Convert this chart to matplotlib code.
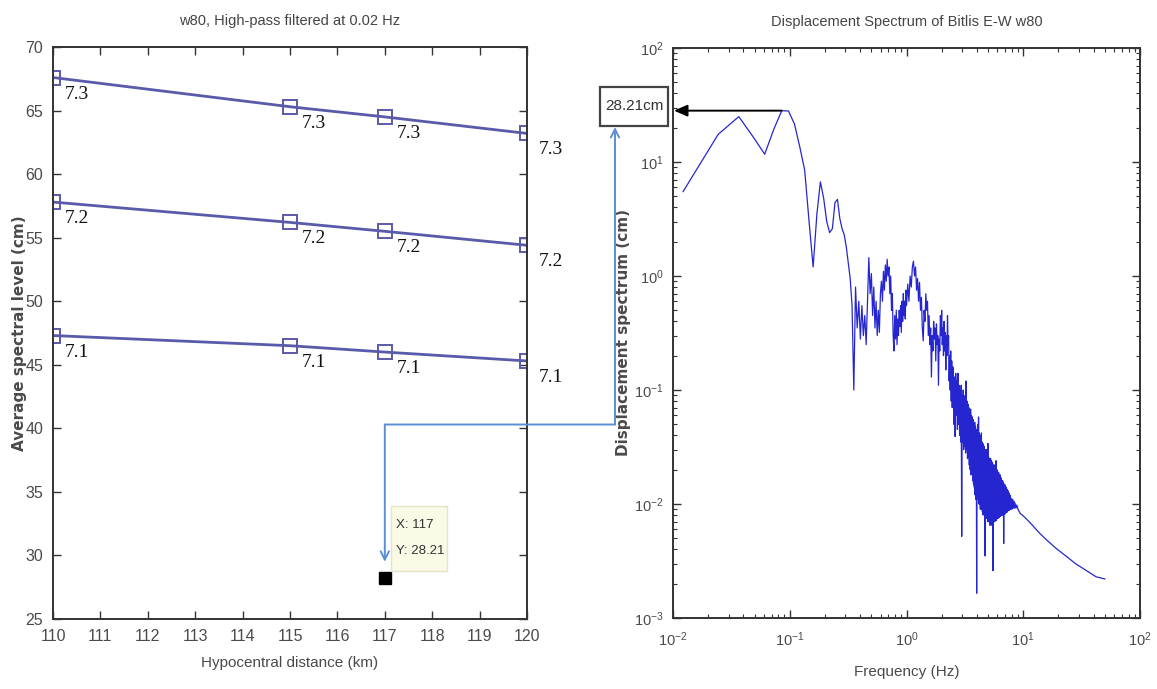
import matplotlib
matplotlib.use("Agg")
import matplotlib.pyplot as plt
import matplotlib.ticker as mticker
import matplotlib.transforms as mtransforms
from matplotlib.patches import ConnectionPatch, Rectangle

# -----------------------------
# Data
# -----------------------------
distance_km = [110, 115, 117, 120]
level_m73 = [67.6, 65.3, 64.5, 63.2]
level_m72 = [57.8, 56.2, 55.5, 54.4]
level_m71 = [47.3, 46.5, 46.0, 45.3]
series_labels = ["7.3", "7.2", "7.1"]

pick_distance = 117
pick_level = 28.21
peak_freq = 0.0854

# displacement spectrum, Bitlis E-W component
# low band (smooth part)
freq_low = [
    0.0122, 0.0244, 0.0366, 0.0488, 0.0610, 0.0732, 0.0854, 0.0976, 0.1098, 0.1220,
    0.1342, 0.1464, 0.1586, 0.1708, 0.1830, 0.1952, 0.2074, 0.2196, 0.2318, 0.2440,
    0.2562, 0.2684, 0.2806, 0.2928, 0.3050, 0.3172,
]
disp_low = [
    5.5, 17.5, 25.0, 16.5, 11.7, 19.5, 28.21, 28.0, 21.5, 13.5,
    8.5, 3.0, 1.2, 3.5, 6.7, 4.8, 3.0, 2.4, 2.6, 4.4,
    4.7, 3.2, 2.6, 2.3, 1.8, 1.3,
]
# mid band (0.33 - 2.5 Hz)
freq_mid = [
    0.3294, 0.3416, 0.3538, 0.3660, 0.3782, 0.3904, 0.4026, 0.4148, 0.4270, 0.4392,
    0.4514, 0.4636, 0.4758, 0.4880, 0.5002, 0.5124, 0.5246, 0.5368, 0.5490, 0.5612,
    0.5734, 0.5856, 0.5978, 0.6100, 0.6222, 0.6344, 0.6466, 0.6588, 0.6710, 0.6832,
    0.6954, 0.7076, 0.7198, 0.7320, 0.7442, 0.7564, 0.7686, 0.7808, 0.7930, 0.8052,
    0.8174, 0.8296, 0.8418, 0.8540, 0.8662, 0.8784, 0.8906, 0.9028, 0.9150, 0.9272,
    0.9394, 0.9516, 0.9638, 0.9760, 0.9882, 1.0004, 1.0248, 1.0492, 1.0736, 1.0980,
    1.1224, 1.1468, 1.1712, 1.1956, 1.2200, 1.2444, 1.2688, 1.2932, 1.3176, 1.3420,
    1.3664, 1.3908, 1.4152, 1.4396, 1.4640, 1.4884, 1.5128, 1.5372, 1.5616, 1.5860,
    1.6104, 1.6348, 1.6592, 1.6836, 1.7080, 1.7324, 1.7568, 1.7812, 1.8056, 1.8300,
    1.8544, 1.8788, 1.9032, 1.9276, 1.9520, 1.9764, 2.0008, 2.0252, 2.0496, 2.0740,
    2.0984, 2.1228, 2.1472, 2.1716, 2.1960, 2.2204, 2.2448, 2.2692, 2.2936, 2.3180,
    2.3424, 2.3668, 2.3912, 2.4156, 2.4400, 2.4644, 2.4888,
]
disp_mid = [
    0.95, 0.55, 0.10, 0.8, 0.35, 0.6, 0.28, 0.55, 0.3, 0.45,
    0.25, 0.6, 1.45, 0.7, 1.05, 0.45, 0.8, 0.35, 0.6, 0.3,
    0.5, 0.32, 0.7, 0.9, 0.6, 1.1, 0.75, 1.25, 0.9, 1.4,
    1.0, 1.2, 0.7, 1.0, 0.5, 0.7, 0.3, 0.22, 0.45, 0.28,
    0.5, 0.25, 0.42, 0.3, 0.5, 0.36, 0.55, 0.32, 0.6, 0.4,
    0.7, 0.45, 0.6, 0.42, 0.75, 0.55, 0.85, 0.6, 1.0, 0.8,
    1.2, 1.35, 1.0, 1.2, 0.75, 0.95, 0.6, 0.88, 0.5, 0.65,
    0.35, 0.27, 0.5, 0.4, 0.7, 0.5, 0.6, 0.3, 0.45, 0.25,
    0.35, 0.13, 0.3, 0.22, 0.4, 0.28, 0.35, 0.18, 0.38, 0.25,
    0.3, 0.11, 0.28, 0.22, 0.45, 0.3, 0.5, 0.25, 0.35, 0.2,
    0.4, 0.22, 0.32, 0.15, 0.3, 0.2, 0.45, 0.25, 0.3, 0.12,
    0.2, 0.1, 0.22, 0.08, 0.18, 0.07, 0.16,
]
# dense band (2.5 - 9 Hz)
freq_dense = [
    2.52, 2.55, 2.58, 2.61, 2.64, 2.67, 2.70, 2.73, 2.76, 2.79,
    2.82, 2.85, 2.88, 2.91, 2.94, 2.97, 3.00, 3.03, 3.06, 3.09,
    3.12, 3.15, 3.18, 3.21, 3.24, 3.27, 3.30, 3.33, 3.36, 3.39,
    3.42, 3.45, 3.48, 3.51, 3.54, 3.57, 3.60, 3.63, 3.66, 3.69,
    3.72, 3.75, 3.78, 3.81, 3.84, 3.87, 3.90, 3.93, 3.96, 3.99,
    4.02, 4.05, 4.08, 4.11, 4.14, 4.17, 4.20, 4.23, 4.26, 4.29,
    4.32, 4.35, 4.38, 4.41, 4.44, 4.47, 4.50, 4.53, 4.56, 4.59,
    4.62, 4.65, 4.68, 4.71, 4.74, 4.77, 4.80, 4.83, 4.86, 4.89,
    4.92, 4.95, 4.98, 5.01, 5.05, 5.10, 5.15, 5.20, 5.25, 5.30,
    5.35, 5.40, 5.45, 5.50, 5.55, 5.60, 5.65, 5.70, 5.75, 5.80,
    5.85, 5.90, 5.95, 6.00, 6.05, 6.10, 6.15, 6.20, 6.25, 6.30,
    6.35, 6.40, 6.45, 6.50, 6.55, 6.60, 6.65, 6.70, 6.75, 6.80,
    6.85, 6.90, 6.95, 7.00, 7.05, 7.10, 7.15, 7.20, 7.25, 7.30,
    7.35, 7.40, 7.45, 7.50, 7.55, 7.60, 7.65, 7.70, 7.75, 7.80,
    7.90, 8.00, 8.10, 8.20, 8.30, 8.40, 8.50, 8.65, 8.80, 9.00,
]
disp_dense = [
    0.15, 0.05, 0.13, 0.039, 0.14, 0.06, 0.12, 0.045, 0.14, 0.05,
    0.11, 0.04, 0.10, 0.035, 0.11, 0.0052, 0.09, 0.035, 0.10, 0.03,
    0.085, 0.032, 0.09, 0.028, 0.12, 0.03, 0.08, 0.025, 0.075, 0.026,
    0.07, 0.022, 0.065, 0.02, 0.068, 0.018, 0.06, 0.02, 0.058, 0.016,
    0.055, 0.015, 0.05, 0.014, 0.052, 0.012, 0.048, 0.011, 0.045, 0.00165,
    0.044, 0.012, 0.05, 0.011, 0.058, 0.01, 0.042, 0.01, 0.04, 0.009,
    0.038, 0.0095, 0.042, 0.009, 0.035, 0.0085, 0.034, 0.008, 0.033, 0.0082,
    0.032, 0.008, 0.03, 0.0035, 0.03, 0.008, 0.029, 0.0075, 0.03, 0.0075,
    0.028, 0.007, 0.034, 0.007, 0.026, 0.007, 0.025, 0.0065, 0.025, 0.007,
    0.024, 0.0065, 0.023, 0.0026, 0.022, 0.007, 0.022, 0.007, 0.021, 0.0072,
    0.024, 0.0072, 0.02, 0.0075, 0.019, 0.0075, 0.019, 0.0076, 0.018, 0.0078,
    0.018, 0.0078, 0.017, 0.008, 0.016, 0.008, 0.016, 0.008, 0.0155, 0.0045,
    0.015, 0.0082, 0.0148, 0.0082, 0.0142, 0.0084, 0.014, 0.0085, 0.0135, 0.0085,
    0.013, 0.0087, 0.013, 0.0088, 0.0125, 0.0088, 0.012, 0.009, 0.0118, 0.009,
    0.0112, 0.009, 0.011, 0.0092, 0.0106, 0.0092, 0.0102, 0.0092, 0.0098, 0.0090,
]
# high-frequency tail
freq_tail = [9.4, 10.5, 12.0, 13.9, 16.0, 19.0, 23.6, 28.0, 34.9, 42.0, 50.0]
disp_tail = [0.0083, 0.0075, 0.0065, 0.0055, 0.0048, 0.0041, 0.00345, 0.0030, 0.0026, 0.0023, 0.0022]

freq_hz = freq_low + freq_mid + freq_dense + freq_tail
disp_cm = disp_low + disp_mid + disp_dense + disp_tail

W, H = 1157, 689
plt.rcParams["font.family"] = ["Liberation Sans", "DejaVu Sans"]

LINE_BLUE = "#5a5aab"
LINK_BLUE = "#5b8fd2"
LABEL_GREY = "#4a4a4a"

fig = plt.figure(figsize=(W / 100, H / 100), dpi=100)
fig.patch.set_facecolor("white")


def style_axes(ax, xpad, ypad, size):
    for sp in ax.spines.values():
        sp.set_color("#333333")
        sp.set_linewidth(1.4)
    ax.tick_params(which="both", direction="in", top=True, right=True,
                   color="#333333", labelcolor=LABEL_GREY, labelsize=size)
    ax.tick_params(which="major", length=6, width=1)
    ax.tick_params(which="minor", length=3, width=0.8)
    ax.tick_params(axis="x", pad=xpad)
    ax.tick_params(axis="y", pad=ypad)


# -----------------------------
# Left: average spectral level vs distance
# -----------------------------
ax1 = fig.add_axes([53 / W, 1 - 619 / H, 474 / W, 572 / H])
for series, lab in zip([level_m73, level_m72, level_m71], series_labels):
    ax1.plot(distance_km, series, color=LINE_BLUE, lw=2, marker="s",
             mfc="none", mec=LINE_BLUE, ms=10, mew=1.4)
    for x, y in zip(distance_km, series):
        ax1.annotate(lab, xy=(x, y), xytext=(12, -8), textcoords="offset pixels",
                     ha="left", va="top", family="Liberation Serif", fontsize=14,
                     color="#111111", annotation_clip=False)

ax1.plot([pick_distance], [pick_level], "s", color="black", ms=8)

ax1.set_xlim(110, 120)
ax1.set_ylim(25, 70)
ax1.set_xticks(range(110, 121))
ax1.set_yticks(range(25, 71, 5))
style_axes(ax1, 7, 7, 11.5)
ax1.set_title("w80, High-pass filtered at 0.02 Hz", fontsize=10.5, color="#444444", pad=16)
ax1.set_xlabel("Hypocentral distance (km)", fontsize=11, color=LABEL_GREY)
ax1.set_ylabel("Average spectral level (cm)", fontsize=11, color=LABEL_GREY,
               fontweight="bold", family="DejaVu Sans")
ax1.xaxis.set_label_coords(0.5, -0.065)
ax1.yaxis.set_label_coords(-0.055, 0.5)

# -----------------------------
# Right: displacement spectrum
# -----------------------------
ax2 = fig.add_axes([673 / W, 1 - 618 / H, 467 / W, 570 / H])
ax2.loglog(freq_hz, disp_cm, color="#2626d0", lw=0.9)
ax2.set_xlim(1e-2, 1e2)
ax2.set_ylim(1e-3, 1e2)
ax2.xaxis.set_major_locator(mticker.LogLocator(base=10, numticks=10))
ax2.yaxis.set_major_locator(mticker.LogLocator(base=10, numticks=10))
ax2.xaxis.set_minor_locator(mticker.LogLocator(base=10, subs=range(2, 10), numticks=20))
ax2.yaxis.set_minor_locator(mticker.LogLocator(base=10, subs=range(2, 10), numticks=20))
ax2.xaxis.set_minor_formatter(mticker.NullFormatter())
ax2.yaxis.set_minor_formatter(mticker.NullFormatter())
style_axes(ax2, 9, 7, 10.5)
ax2.set_title("Displacement Spectrum of Bitlis E-W w80", fontsize=10.5, color="#444444", pad=16)
ax2.set_xlabel("Frequency (Hz)", fontsize=11, color=LABEL_GREY)
ax2.set_ylabel("Displacement spectrum (cm)", fontsize=11, color=LABEL_GREY,
               fontweight="bold", family="DejaVu Sans")
ax2.xaxis.set_label_coords(0.5, -0.082)
ax2.yaxis.set_label_coords(-0.09, 0.5)

# -----------------------------
# Data tip next to the picked point (sized in pixels)
# -----------------------------
px, py = ax1.transData.transform((pick_distance, pick_level))
pixels = mtransforms.IdentityTransform()
fig.add_artist(Rectangle((px + 6, py + 7), 56, 65, transform=pixels,
                         fc="#fafae6", ec="#e4e4c8", lw=1))
fig.text(px + 11, py + 53, f"X: {pick_distance}", transform=pixels,
         ha="left", va="center", fontsize=9.5, color="#333333")
fig.text(px + 11, py + 27, f"Y: {pick_level}", transform=pixels,
         ha="left", va="center", fontsize=9.5, color="#333333")

# -----------------------------
# Peak call-out box and connectors
# -----------------------------
box_l, box_r, box_t, box_b = 600, 668, 87, 126
fig.add_artist(Rectangle((box_l / W, 1 - box_b / H), (box_r - box_l) / W,
                         (box_b - box_t) / H, transform=fig.transFigure,
                         fc="white", ec="#444444", lw=1.6))
fig.text((box_l + box_r) / 2 / W, 1 - (box_t + box_b) / 2 / H, f"{pick_level}cm",
         ha="center", va="center", fontsize=11, color="#333333")

fig_x_ax2_y = mtransforms.blended_transform_factory(fig.transFigure, ax2.transData)
peak_arrow = ConnectionPatch(xyA=(peak_freq, pick_level), coordsA=ax2.transData,
                             xyB=((box_r + 6) / W, pick_level), coordsB=fig_x_ax2_y,
                             arrowstyle="-|>,head_length=0.8,head_width=0.35",
                             color="black", lw=1.4, shrinkA=0, shrinkB=0)
fig.add_artist(peak_arrow)

link_x = 615 / W
corner_level = 40.3
fig_x_ax1_y = mtransforms.blended_transform_factory(fig.transFigure, ax1.transData)
up_arrow = ConnectionPatch(xyA=(link_x, corner_level), coordsA=fig_x_ax1_y,
                           xyB=(link_x, 1 - (box_b + 1) / H), coordsB=fig.transFigure,
                           arrowstyle="->,head_length=0.6,head_width=0.3",
                           color=LINK_BLUE, lw=1.4, shrinkA=0, shrinkB=0)
fig.add_artist(up_arrow)
across = ConnectionPatch(xyA=(pick_distance, corner_level), coordsA=ax1.transData,
                         xyB=(link_x, corner_level), coordsB=fig_x_ax1_y,
                         arrowstyle="-", color=LINK_BLUE, lw=1.4, shrinkA=0, shrinkB=0)
fig.add_artist(across)
ax1.annotate("", xy=(pick_distance, 29.5), xytext=(pick_distance, corner_level),
             arrowprops=dict(arrowstyle="->,head_length=0.6,head_width=0.3",
                             color=LINK_BLUE, lw=1.4, shrinkA=0, shrinkB=0))

fig.savefig("out.png", dpi=100)
